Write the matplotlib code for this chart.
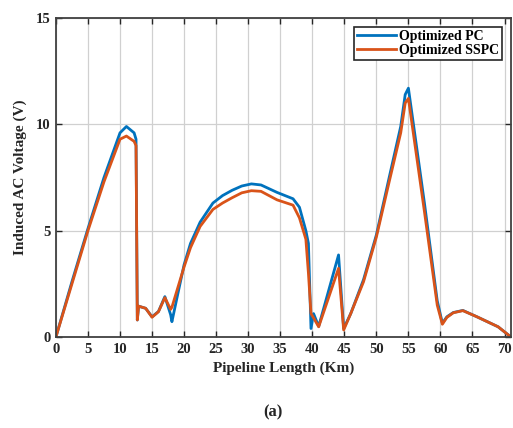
import matplotlib.pyplot as plt
import numpy as np

# distance along the pipeline (km)
x_km = [0, 2.5, 5, 7.5, 10, 11, 12.2, 12.5, 12.7, 12.9, 14, 15, 16, 17, 17.9, 18.1,
        19, 20, 21, 22.5, 23.5, 24.5, 26, 27.5, 29, 30.5, 32, 34.5, 37, 38, 39, 39.4,
        39.8, 40.2, 41, 44.1, 44.9, 46, 48, 50, 52, 53.8, 54.5, 55, 57.5, 59.5, 60.3,
        61, 62, 63.5, 65.7, 69, 71]

# induced AC voltage (V)
v_pc = [0, 2.6, 5.1, 7.5, 9.6, 9.9, 9.6, 9.3, 0.8, 1.45, 1.35, 0.95, 1.2, 1.9, 1.05, 0.72,
        2.0, 3.4, 4.4, 5.4, 5.85, 6.3, 6.65, 6.9, 7.1, 7.2, 7.15, 6.8, 6.5, 6.1, 5.0, 4.4,
        0.4, 1.1, 0.5, 3.86, 0.4, 1.1, 2.7, 4.8, 7.5, 9.9, 11.4, 11.7, 6.3, 1.7, 0.65,
        0.95, 1.15, 1.25, 0.95, 0.48, 0]
v_sspc = [0, 2.5, 5.0, 7.3, 9.3, 9.45, 9.2, 9.0, 0.8, 1.45, 1.35, 0.93, 1.19, 1.85, 1.3, 1.4,
          2.3, 3.3, 4.2, 5.2, 5.6, 6.0, 6.3, 6.55, 6.78, 6.88, 6.85, 6.45, 6.2, 5.6, 4.6, 3.0,
          1.1, 0.9, 0.48, 3.23, 0.33, 1.1, 2.6, 4.7, 7.3, 9.6, 11.0, 11.22, 5.9, 1.5, 0.6,
          0.92, 1.14, 1.24, 0.95, 0.48, 0]

serif = ['Liberation Serif', 'DejaVu Serif']
dark = '#262626'

fig = plt.figure(figsize=(5.13, 4.28), dpi=100)
ax = fig.add_axes([0.109, 0.2126, 0.887, 0.7453])

ax.plot(x_km, v_pc, color='#0072BD', lw=2.0, label='Optimized PC')
ax.plot(x_km, v_sspc, color='#D95319', lw=2.0, label='Optimized SSPC')

ax.set_xlim(0, 71)
ax.set_ylim(0, 15)
ax.set_xticks(np.arange(0, 71, 5))
ax.set_yticks([0, 5, 10, 15])
ax.grid(True, color='#d0d0d0', lw=0.9)
ax.set_axisbelow(True)
ax.tick_params(direction='in', top=True, right=True, length=4, width=1, colors=dark,
               labelsize=10.5, pad=4)
for lab in ax.get_xticklabels() + ax.get_yticklabels():
    lab.set_family(serif)
    lab.set_fontweight('bold')
for s in ax.spines.values():
    s.set_color('#404040')
    s.set_linewidth(1.3)

ax.set_xlabel('Pipeline Length (Km)', family=serif, fontweight='bold', fontsize=11,
              color=dark, labelpad=4)
ax.set_ylabel('Induced AC Voltage (V)', family=serif, fontweight='bold', fontsize=11,
              color=dark, labelpad=6)

leg = ax.legend(loc='upper right', prop={'family': serif, 'weight': 'bold', 'size': 10},
                fancybox=False, edgecolor='#262626', framealpha=1, borderpad=0.2,
                handlelength=2.8, handletextpad=0.25, labelspacing=0.1,
                borderaxespad=0.65)
leg.get_frame().set_linewidth(1.2)

fig.text(0.532, 0.037, '(a)', family=serif, fontweight='bold', fontsize=12,
         color=dark, ha='center', va='center')

fig.savefig('out.png', dpi=100)
